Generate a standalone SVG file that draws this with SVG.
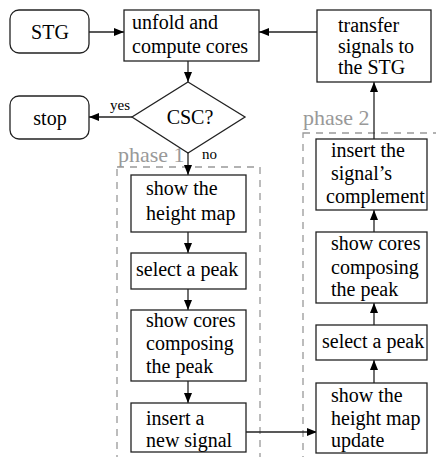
<svg xmlns="http://www.w3.org/2000/svg" width="436" height="457" viewBox="0 0 436 457">
  <style>
    .box { fill: #fff; stroke: #222; stroke-width: 1.3; }
    .lbl { font-family: "Liberation Serif", "Times New Roman", serif; font-size: 20px; fill: #000; }
    .small { font-family: "Liberation Serif", "Times New Roman", serif; font-size: 15px; fill: #000; }
    .phase { font-family: "Liberation Serif", "Times New Roman", serif; font-size: 22px; fill: #999; }
    .frame { fill: none; stroke: #999; stroke-width: 1.3; stroke-dasharray: 7 6; }
    .edge { fill: none; stroke: #222; stroke-width: 1.3; marker-end: url(#arrow); }
  </style>
  <defs>
    <marker id="arrow" viewBox="0 0 10 8" refX="10" refY="4" markerWidth="10" markerHeight="8" markerUnits="userSpaceOnUse" orient="auto">
      <path d="M0,0 L10,4 L0,8 Z" fill="#000"/>
    </marker>
  </defs>
  <rect width="436" height="457" fill="#fff"/>

  <!-- phase frames -->
  <g id="phase1">
    <rect class="frame" x="117" y="167" width="143" height="310"/>
    <text class="phase" x="118" y="162">phase 1</text>
  </g>
  <g id="phase2">
    <rect class="frame" x="303" y="133" width="150" height="340"/>
    <text class="phase" x="303" y="125">phase 2</text>
  </g>

  <!-- connectors -->
  <g id="connectors">
    <line class="edge" x1="89" y1="32" x2="124" y2="32"/>
    <line class="edge" x1="317" y1="32" x2="259" y2="32"/>
    <line class="edge" x1="188" y1="61" x2="188" y2="82"/>
    <line class="edge" x1="132" y1="117" x2="89" y2="117"/>
    <text class="small" x="110" y="110">yes</text>
    <line class="edge" x1="188" y1="153" x2="188" y2="175"/>
    <text class="small" x="202" y="159">no</text>
    <line class="edge" x1="188" y1="232" x2="188" y2="253"/>
    <line class="edge" x1="188" y1="289" x2="188" y2="310"/>
    <line class="edge" x1="188" y1="381" x2="188" y2="403"/>
    <line class="edge" x1="246" y1="432" x2="317" y2="432"/>
    <line class="edge" x1="374" y1="383" x2="374" y2="360"/>
    <line class="edge" x1="374" y1="325" x2="374" y2="303"/>
    <line class="edge" x1="374" y1="232" x2="374" y2="210"/>
    <line class="edge" x1="374" y1="139" x2="374" y2="82"/>
  </g>

  <!-- nodes -->
  <g id="stg">
    <rect class="box" x="10" y="10" width="79" height="43" rx="9"/>
    <text class="lbl" x="50" y="38.5" text-anchor="middle">STG</text>
  </g>
  <g id="unfold">
    <rect class="box" x="124" y="10" width="135" height="51"/>
    <text class="lbl" x="132" y="29">unfold and</text>
    <text class="lbl" x="132" y="52.5">compute cores</text>
  </g>
  <g id="transfer">
    <rect class="box" x="317" y="10" width="114" height="72"/>
    <text class="lbl" x="338" y="32">transfer</text>
    <text class="lbl" x="338" y="53">signals to</text>
    <text class="lbl" x="338" y="74">the STG</text>
  </g>
  <g id="csc">
    <path class="box" d="M188,82 L245,117 L188,153 L132,117 Z"/>
    <text class="lbl" x="190" y="124" text-anchor="middle">CSC?</text>
  </g>
  <g id="stop">
    <rect class="box" x="10" y="96" width="79" height="43" rx="9"/>
    <text class="lbl" x="50" y="124.5" text-anchor="middle">stop</text>
  </g>

  <g id="p1-height-map">
    <rect class="box" x="131" y="175" width="115" height="57"/>
    <text class="lbl" x="146" y="195">show the</text>
    <text class="lbl" x="146" y="220">height map</text>
  </g>
  <g id="p1-select-peak">
    <rect class="box" x="131" y="253" width="115" height="36"/>
    <text class="lbl" x="136" y="276">select a peak</text>
  </g>
  <g id="p1-show-cores">
    <rect class="box" x="131" y="310" width="115" height="71"/>
    <text class="lbl" x="146" y="327">show cores</text>
    <text class="lbl" x="146" y="350">composing</text>
    <text class="lbl" x="146" y="373">the peak</text>
  </g>
  <g id="p1-insert-signal">
    <rect class="box" x="131" y="403" width="115" height="49"/>
    <text class="lbl" x="146" y="425">insert a</text>
    <text class="lbl" x="146" y="447">new signal</text>
  </g>

  <g id="p2-insert-complement">
    <rect class="box" x="316" y="139" width="111" height="71"/>
    <text class="lbl" x="331" y="157">insert the</text>
    <text class="lbl" x="331" y="180">signal’s</text>
    <text class="lbl" x="326" y="203">complement</text>
  </g>
  <g id="p2-show-cores">
    <rect class="box" x="316" y="232" width="111" height="71"/>
    <text class="lbl" x="331" y="250">show cores</text>
    <text class="lbl" x="331" y="274">composing</text>
    <text class="lbl" x="331" y="296">the peak</text>
  </g>
  <g id="p2-select-peak">
    <rect class="box" x="316" y="325" width="111" height="35"/>
    <text class="lbl" x="322" y="348">select a peak</text>
  </g>
  <g id="p2-height-map">
    <rect class="box" x="316" y="383" width="111" height="70"/>
    <text class="lbl" x="331" y="402">show the</text>
    <text class="lbl" x="331" y="425">height map</text>
    <text class="lbl" x="331" y="447">update</text>
  </g>
</svg>
